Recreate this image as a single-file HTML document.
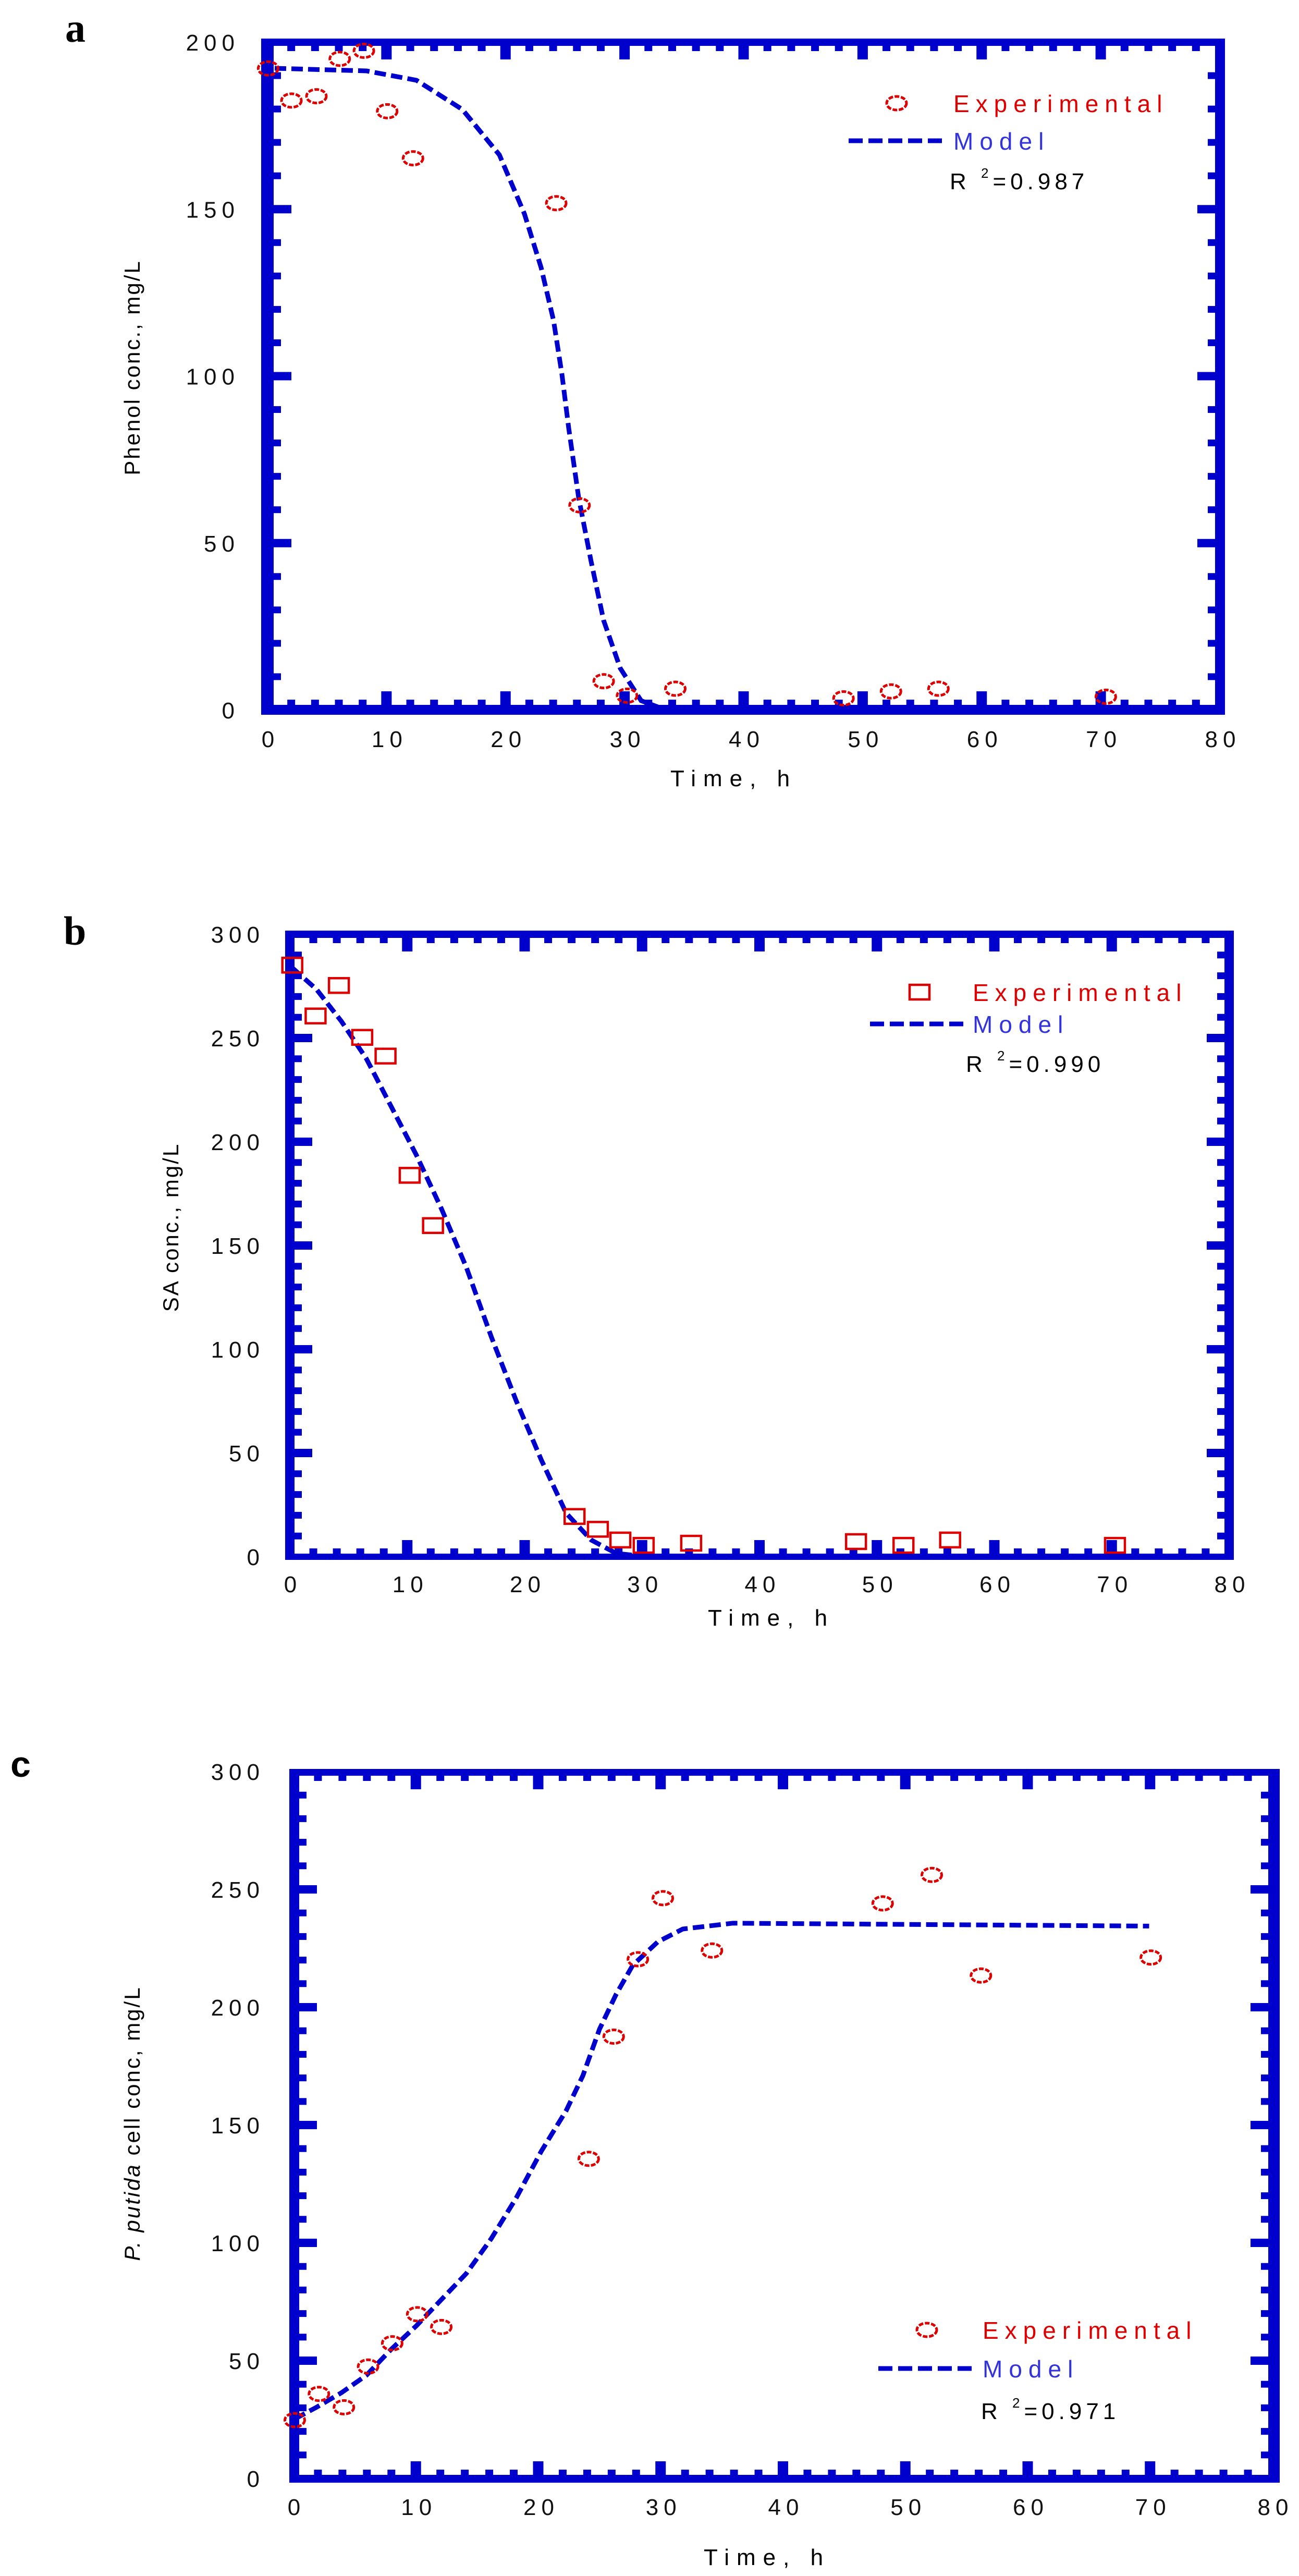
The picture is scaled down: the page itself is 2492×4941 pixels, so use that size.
<!DOCTYPE html>
<html><head><meta charset="utf-8">
<style>
html,body{margin:0;padding:0;background:#fff;}
svg{display:block;}
text{font-family:"Liberation Sans",sans-serif;}
</style></head>
<body>
<svg id="s" xmlns="http://www.w3.org/2000/svg" width="2492" height="4941" viewBox="0 0 2492 4941">
<rect width="2492" height="4941" fill="#fff"/>
<text x="125" y="80" font-family="Liberation Serif" font-weight="bold" font-size="78" fill="#000" style="font-family:'Liberation Serif',serif">a</text>
<text x="122" y="1812" font-family="Liberation Serif" font-weight="bold" font-size="78" fill="#000" style="font-family:'Liberation Serif',serif">b</text>
<text x="20" y="3408" font-weight="bold" font-size="70" fill="#000">c</text>
</svg>
<script>
var S=document.getElementById('s'),NS='http://www.w3.org/2000/svg';
function el(t,a,txt){var e=document.createElementNS(NS,t);for(var k in a)e.setAttribute(k,a[k]);if(txt!==undefined)e.textContent=txt;S.appendChild(e);return e;}
var BLUE='#0000cc',RED='#dd0000';
function panel(P){
  var X=function(v){return P.x0+(P.x1-P.x0)*v/80;};
  var Y=function(v){return P.y0+(P.y1-P.y0)*v/P.ymax;};
  var L=P.fl,T=P.ft,R=P.fr,B=P.fb;
  el('rect',{x:L,y:T,width:R-L,height:P.tt,fill:BLUE});
  el('rect',{x:L,y:B-P.tb,width:R-L,height:P.tb,fill:BLUE});
  el('rect',{x:L,y:T,width:P.tl,height:B-T,fill:BLUE});
  el('rect',{x:R-P.tr,y:T,width:P.tr,height:B-T,fill:BLUE});
  for(var v=0;v<=80;v+=2){
    var xm=X(v),maj=(v%10==0),w=maj?20:15,h=maj?26:10;
    if(v>0&&v<80){
      el('rect',{x:xm-w/2,y:B-P.tb-h,width:w,height:h,fill:BLUE});
      el('rect',{x:xm-w/2,y:T+P.tt,width:w,height:h,fill:BLUE});
    }
    if(maj){ el('text',{x:xm+6,y:B+62,'font-size':44,'text-anchor':'middle','letter-spacing':10,fill:'#111'},String(v)); }
  }
  for(var v=0;v<=P.ymax;v+=P.ymin){
    var ym=Y(v),maj=(v%P.ymaj==0),h=maj?16:13,w=maj?34:14;
    if(v>0&&v<P.ymax){
      el('rect',{x:L+P.tl,y:ym-h/2,width:w,height:h,fill:BLUE});
      el('rect',{x:R-P.tr-w,y:ym-h/2,width:w,height:h,fill:BLUE});
    }
    if(maj){ el('text',{x:P.lx,y:ym+16,'font-size':44,'text-anchor':'end','letter-spacing':10,fill:'#111'},String(v)); }
  }
  el('text',{x:P.tx,y:P.ty,'font-size':44,'letter-spacing':14,fill:'#000'},'Time, h');
  var yt=el('text',{x:0,y:0,'font-size':42,'letter-spacing':3,'text-anchor':'middle',fill:'#000',transform:'translate('+P.yx+','+P.yy+') rotate(-90)'});
  if(P.ytitleItalic){
    var a=document.createElementNS(NS,'tspan');a.setAttribute('font-style','italic');a.textContent='P. putida';yt.appendChild(a);
    var b=document.createElementNS(NS,'tspan');b.textContent=' cell conc, mg/L';yt.appendChild(b);
  } else yt.textContent=P.ytitle;
  var d='';P.model.forEach(function(p,i){d+=(i?'L':'M')+p[0]+' '+p[1];});
  el('path',{d:d,fill:'none',stroke:BLUE,'stroke-width':9,'stroke-dasharray':'22 10'});
  P.pts.forEach(function(p){marker(P.sq,p[0],p[1]);});
  var g=P.leg;
  marker(P.sq,g.mx,g.my);
  el('text',{x:g.tx,y:g.my+17,'font-size':46,'letter-spacing':12,fill:RED},'Experimental');
  el('line',{x1:g.lx1,x2:g.lx2,y1:g.ly,y2:g.ly,stroke:BLUE,'stroke-width':9,'stroke-dasharray':'27 11'});
  el('text',{x:g.tx,y:g.ly+17,'font-size':46,'letter-spacing':12,fill:'#3333dd'},'Model');
  var r=el('text',{x:g.rx,y:g.ry,'font-size':44,'letter-spacing':8,fill:'#000'});
  r.appendChild(document.createTextNode('R '));
  var sup=document.createElementNS(NS,'tspan');sup.setAttribute('font-size','26');sup.setAttribute('dy','-22');sup.textContent='2';r.appendChild(sup);
  var rest=document.createElementNS(NS,'tspan');rest.setAttribute('dy','22');rest.textContent='='+g.r;r.appendChild(rest);
}
function marker(sq,x,y){
  if(sq) el('rect',{x:x-19,y:y-14,width:38,height:28,fill:'none',stroke:RED,'stroke-width':4.5});
  else el('ellipse',{cx:x,cy:y,rx:19,ry:13,fill:'none',stroke:RED,'stroke-width':5,'stroke-dasharray':'9 3'});
}
function cv(arr,sx,oy,sy){return arr.map(function(p){return [p[0]/sx,oy+p[1]/sy];});}
panel({x0:513,x1:2340,y0:1362,y1:81,ymax:200,ymaj:50,ymin:10,
 fl:501,ft:74,fr:2350,fb:1371,tl:24,tt:14,tr:19,tb:19,lx:460,
 tx:1286,ty:1508,yx:268,yy:705,ytitle:'Phenol conc., mg/L',sq:false,
 pts:cv([[322,128],[350,188],[380,180],[408,110],[437,95],[465,208],[496,296],[668,380],[696,945],[725,1274],[753,1301],[811,1288],[1013,1306],[1070,1293],[1127,1288],[1328,1303]],0.626,0,0.975),
 model:[[527,131],[703,136],[799,154],[887,210],[958,297],[1006,410],[1038,513],[1062,615],[1078,718],[1091,821],[1110,954],[1134,1077],[1158,1190],[1190,1282],[1230,1344],[1262,1356]],
 leg:{mx:1720,my:198,tx:1829,lx1:1628,lx2:1813,ly:270,rx:1822,ry:363,r:'0.987'}});
panel({x0:556,x1:2358,y0:2986,y1:1792,ymax:300,ymaj:50,ymin:10,
 fl:547,ft:1785,fr:2367,fb:2992,tl:18,tt:14,tr:18,tb:12,lx:508,
 tx:1358,ty:3118,yx:342,yy:2354,ytitle:'SA conc., mg/L',sq:true,
 pts:cv([[351,245],[379,340],[407,283],[435,380],[463,415],[492,638],[520,732],[690,1276],[718,1300],[745,1320],[773,1330],[830,1326],[1028,1323],[1085,1330],[1141,1320],[1339,1330]],0.626,1600,0.975),
 model:cv([[351,250],[380,290],[410,350],[440,420],[470,510],[500,600],[530,700],[560,810],[590,940],[620,1060],[650,1170],[680,1270],[710,1320],[740,1345],[770,1350]],0.626,1600,0.975),
 leg:{mx:1764,my:1903,tx:1866,lx1:1669,lx2:1853,ly:1964,rx:1853,ry:2056,r:'0.990'}});
panel({x0:563,x1:2441,y0:4754,y1:3398,ymax:300,ymaj:50,ymin:10,
 fl:555,ft:3393,fr:2455,fb:4762,tl:19,tt:13,tr:22,tb:15,lx:508,
 tx:1350,ty:4920,yx:268,yy:4073,ytitleItalic:true,sq:false,
 pts:cv([[354,1292],[383,1247],[413,1270],[442,1200],[471,1160],[501,1110],[530,1132],[707,843],[737,633],[766,500],[796,395],[855,485],[1060,404],[1119,355],[1178,528],[1382,497]],0.626,3200,0.896),
 model:cv([[354,1290],[380,1270],[410,1245],[440,1215],[470,1170],[500,1130],[530,1085],[560,1040],[590,980],[620,910],[650,830],[680,760],[700,700],[720,620],[740,560],[760,510],[790,470],[820,448],[880,438],[1380,443]],0.626,3200,0.896),
 leg:{mx:1778,my:4469,tx:1885,lx1:1685,lx2:1869,ly:4543,rx:1882,ry:4640,r:'0.971'}});
</script>
</body></html>
